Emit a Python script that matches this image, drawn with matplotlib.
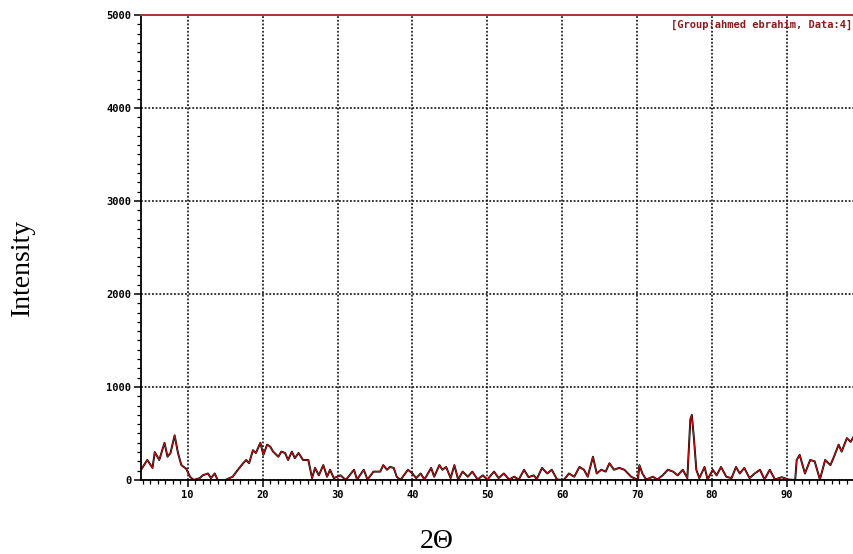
import matplotlib
matplotlib.use('Agg')
import matplotlib.pyplot as plt
from matplotlib.ticker import MultipleLocator

# 2-theta positions and intensity
two_theta = [3.75, 4.6, 5.3, 5.6, 6.2, 6.9, 7.3, 7.7, 8.25, 8.7, 9.15, 9.8, 10.3, 10.8,
             11.6, 12.0, 12.7, 13.1, 13.6, 14.0, 15.0, 16.0, 16.7, 17.4, 17.8, 18.2,
             18.7, 19.1, 19.7, 20.1, 20.6, 21.0, 21.4, 22.1, 22.5, 23.0, 23.4, 23.9,
             24.3, 24.8, 25.4, 26.1, 26.6, 27.0, 27.5, 28.1, 28.6, 29.0, 29.5, 30.4,
             31.1, 32.2, 32.6, 33.5, 34.0, 34.8, 35.7, 36.1, 36.6, 37.0, 37.5, 37.9,
             38.4, 39.4, 40.0, 40.5, 41.1, 41.6, 42.5, 42.9, 43.6, 44.0, 44.5, 45.1,
             45.6, 46.1, 46.7, 47.4, 48.0, 48.7, 49.4, 50.0, 50.9, 51.5, 52.2, 52.9,
             53.6, 54.2, 54.9, 55.5, 56.2, 56.6, 57.3, 58.0, 58.6, 59.3, 60.2, 60.9,
             61.6, 62.3, 62.9, 63.4, 64.1, 64.6, 65.2, 65.8, 66.3, 66.9, 67.6, 68.3,
             69.2, 70.1, 70.3, 70.7, 71.2, 72.1, 72.7, 73.4, 74.1, 74.8, 75.4, 76.1,
             76.7, 77.1, 77.3, 77.6, 77.9, 78.3, 79.0, 79.4, 80.1, 80.6, 81.2, 81.9,
             82.6, 83.2, 83.7, 84.3, 85.0, 85.7, 86.4, 87.0, 87.7, 88.4, 89.3, 90.2,
             91.1, 91.3, 91.7, 92.4, 93.1, 93.7, 94.4, 95.1, 95.8, 96.2, 96.9, 97.3,
             98.0, 98.5, 99.0]
intensity = [107, 215, 130, 300, 215, 400, 250, 290, 480, 290, 160, 120, 35, 0,
             20, 50, 70, 20, 70, 0, 0, 35, 110, 180, 215, 180,
             320, 290, 400, 270, 380, 360, 305, 250, 305, 290, 215, 305,
             235, 290, 215, 215, 20, 130, 50, 160, 35, 110, 20, 50,
             0, 110, 5, 110, 5, 90, 90, 160, 110, 140, 130, 35,
             0, 110, 70, 20, 70, 5, 130, 35, 160, 110, 140, 20,
             160, 5, 90, 35, 90, 5, 50, 5, 90, 20, 70, 5,
             35, 5, 110, 30, 50, 10, 130, 70, 110, 5, 0, 70,
             35, 140, 110, 35, 250, 70, 110, 90, 180, 110, 130, 110,
             35, 0, 160, 70, 5, 35, 5, 50, 110, 90, 50, 110,
             20, 650, 700, 430, 110, 20, 140, 5, 110, 50, 140, 35,
             20, 140, 70, 130, 20, 70, 110, 5, 110, 5, 30, 5,
             0, 215, 270, 70, 215, 200, 5, 215, 160, 235, 380, 305,
             450, 410, 480]

fig = plt.figure(figsize=(8.54, 5.54), dpi=100)
ax = fig.add_axes([0.165, 0.1336, 0.835, 0.8394])

ax.plot(two_theta, intensity, color='black', lw=1.4)
ax.plot(two_theta, intensity, color='#d01010', lw=0.7)

ax.set_xlim(3.75, 98.95)
ax.set_ylim(0, 5000)
ax.xaxis.set_major_locator(MultipleLocator(10))
ax.xaxis.set_minor_locator(MultipleLocator(1))
ax.yaxis.set_major_locator(MultipleLocator(1000))
ax.yaxis.set_minor_locator(MultipleLocator(100))
ax.grid(True, which='major', color='black', linestyle=(0, (1.2, 1.2)), lw=1.1)

for lab in ax.get_xticklabels() + ax.get_yticklabels():
    lab.set_family('DejaVu Sans Mono')
    lab.set_fontweight('bold')
    lab.set_fontsize(7.5)
ax.tick_params(which='major', length=5, width=1.1, pad=2)
ax.tick_params(which='minor', length=3, width=0.9)

ax.spines['right'].set_visible(False)
ax.spines['top'].set_color('#a83a30')
ax.spines['top'].set_linewidth(1.4)
ax.spines['left'].set_linewidth(1.3)
ax.spines['bottom'].set_linewidth(1.3)

ax.text(0.997, 0.99, '[Group:ahmed ebrahim, Data:4]', transform=ax.transAxes,
        ha='right', va='top', fontsize=7.5, family='DejaVu Sans Mono',
        fontweight='bold', color='#8b1a1a')

fig.text(0.026, 0.518, 'Intensity', rotation=90, ha='center', va='center',
         fontsize=20, family='Liberation Serif')
fig.text(0.511, 0.023, '2Θ', ha='center', va='center',
         fontsize=20, family='Liberation Serif')

fig.savefig('out.png', dpi=100)
